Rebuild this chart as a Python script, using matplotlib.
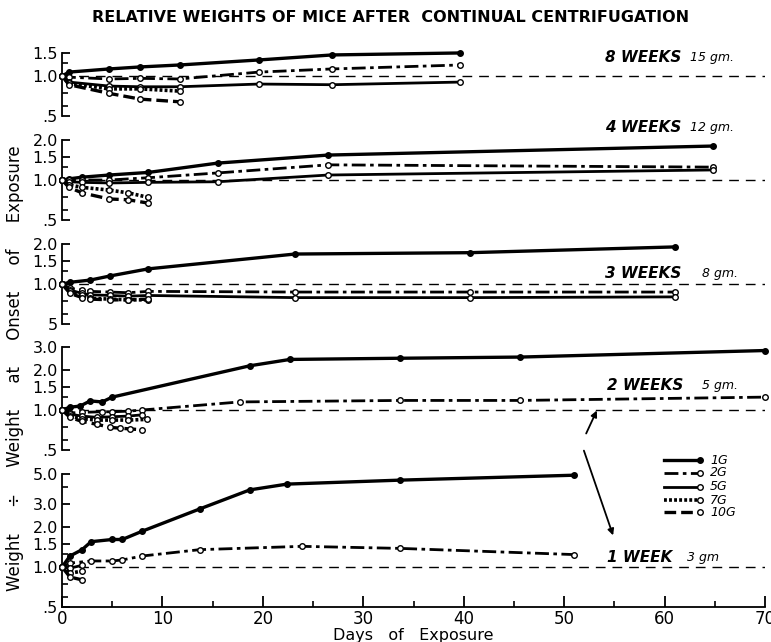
import numpy as np
import matplotlib.pyplot as plt
from matplotlib.lines import Line2D
from matplotlib.ticker import NullFormatter

# relative weight (weight / weight at onset) vs days of exposure
wk8 = {
    '1G': ([0, 0.7, 4.7, 7.8, 11.7, 19.6, 26.9, 39.6], [1.0, 1.07, 1.13, 1.17, 1.21, 1.32, 1.44, 1.49]),
    '2G': ([0, 0.7, 4.7, 7.8, 11.7, 19.6, 26.9, 39.6], [1.0, 0.98, 0.95, 0.96, 0.95, 1.07, 1.13, 1.21]),
    '5G': ([0, 0.7, 4.7, 7.8, 11.7, 19.6, 26.9, 39.6], [1.0, 0.90, 0.84, 0.83, 0.83, 0.87, 0.86, 0.90]),
    '7G': ([0, 0.7, 4.7, 7.8, 11.7], [1.0, 0.88, 0.80, 0.80, 0.77]),
    '10G': ([0, 0.7, 4.7, 7.8, 11.7], [1.0, 0.86, 0.74, 0.67, 0.64]),
}
wk4 = {
    '1G': ([0, 0.7, 2, 4.7, 8.6, 15.5, 26.5, 64.8], [1.0, 1.02, 1.05, 1.09, 1.14, 1.34, 1.54, 1.80]),
    '2G': ([0, 0.7, 2, 4.7, 8.6, 15.5, 26.5, 64.8], [1.0, 1.0, 1.0, 1.0, 1.04, 1.13, 1.30, 1.25]),
    '5G': ([0, 0.7, 2, 4.7, 8.6, 15.5, 26.5, 64.8], [1.0, 0.97, 0.96, 0.95, 0.96, 0.97, 1.09, 1.19]),
    '7G': ([0, 0.7, 2, 4.7, 6.6, 8.6], [1.0, 0.92, 0.88, 0.84, 0.80, 0.74]),
    '10G': ([0, 0.7, 2, 4.7, 6.6, 8.6], [1.0, 0.88, 0.80, 0.72, 0.71, 0.67]),
}
wk3 = {
    '1G': ([0, 0.8, 2.8, 4.8, 8.6, 23.2, 40.6, 61.0], [1.0, 1.03, 1.07, 1.15, 1.30, 1.68, 1.72, 1.90]),
    '2G': ([0, 0.8, 2, 2.8, 4.8, 6.6, 8.6, 23.2, 40.6, 61.0], [1.0, 0.93, 0.90, 0.88, 0.87, 0.86, 0.88, 0.87, 0.87, 0.87]),
    '5G': ([0, 0.8, 2, 2.8, 4.8, 6.6, 8.6, 23.2, 40.6, 61.0], [1.0, 0.90, 0.85, 0.83, 0.82, 0.81, 0.82, 0.79, 0.79, 0.80]),
    '7G': ([0, 0.8, 2, 2.8, 4.8, 6.6, 8.6], [1.0, 0.88, 0.82, 0.78, 0.77, 0.76, 0.76]),
    '10G': ([0, 0.8, 2, 2.8, 4.8, 6.6, 8.6], [1.0, 0.85, 0.79, 0.77, 0.76, 0.76, 0.77]),
}
wk2 = {
    '1G': ([0, 0.8, 1.8, 2.8, 4.0, 5.0, 18.7, 22.7, 33.7, 45.6, 70.0], [1.0, 1.05, 1.07, 1.17, 1.15, 1.25, 2.15, 2.40, 2.45, 2.50, 2.80]),
    '2G': ([0, 0.8, 2, 4.0, 5.0, 6.6, 8.0, 17.7, 33.7, 45.6, 70.0], [1.0, 0.95, 0.96, 0.97, 0.97, 0.98, 1.0, 1.15, 1.18, 1.18, 1.25]),
    '5G': ([0, 0.8, 2, 3.5, 5.0, 6.6, 8.0], [1.0, 0.93, 0.90, 0.88, 0.89, 0.90, 0.92]),
    '7G': ([0, 0.8, 2, 3.5, 5.0, 6.6, 8.5], [1.0, 0.90, 0.86, 0.84, 0.84, 0.84, 0.85]),
    '10G': ([0, 0.8, 2, 3.5, 4.8, 5.8, 6.8, 8.0], [1.0, 0.88, 0.82, 0.78, 0.74, 0.73, 0.72, 0.71]),
}
wk1 = {
    '1G': ([0, 0.8, 2.0, 2.9, 5.0, 6.0, 8.0, 13.7, 18.7, 22.4, 33.7, 51.0], [1.0, 1.21, 1.35, 1.55, 1.61, 1.61, 1.86, 2.73, 3.8, 4.2, 4.5, 4.9]),
    '2G': ([0, 0.8, 2.9, 5.0, 6.0, 8.0, 13.7, 23.9, 33.7, 51.0], [1.0, 1.07, 1.11, 1.11, 1.13, 1.21, 1.35, 1.43, 1.38, 1.24]),
    '5G': ([0, 0.8, 2.0], [1.0, 0.98, 1.03]),
    '7G': ([0, 0.8, 2.0], [1.0, 0.90, 0.93]),
    '10G': ([0, 0.8, 2.0], [1.0, 0.84, 0.80]),
}

panel_names = ['8 WEEKS', '4 WEEKS', '3 WEEKS', '2 WEEKS', '1 WEEK']
panel_mass = ['15 gm.', '12 gm.', '8 gm.', '5 gm.', '3 gm']
panel_data = [wk8, wk4, wk3, wk2, wk1]
panel_tops = [1.5, 2.0, 2.0, 3.0, 5.0]
major_ticks = [[0.5, 1.0, 1.5], [0.5, 1.0, 1.5, 2.0], [0.5, 1.0, 1.5, 2.0],
               [0.5, 1.0, 1.5, 2.0, 3.0], [0.5, 1.0, 1.5, 2.0, 3.0, 5.0]]
major_labels = [['.5', '1.0', '1.5'], ['.5', '1.0', '1.5', '2.0'], ['5', '1.0', '1.5', '2.0'],
                ['.5', '1.0', '1.5', '2.0', '3.0'], ['.5', '1.0', '1.5', '2.0', '3.0', '5.0']]
series = ['1G', '2G', '5G', '7G', '10G']
days_ticks = [0, 10, 20, 30, 40, 50, 60, 70]

styles = {
    '1G': dict(ls='-', lw=2.4, mfc='black'),
    '2G': dict(ls=(0, (5, 1.6, 1.3, 1.6)), lw=2.0, mfc='white'),
    '5G': dict(ls='-', lw=2.0, mfc='white'),
    '7G': dict(ls=(0, (0.8, 0.6)), lw=2.6, mfc='white'),
    '10G': dict(ls=(0, (3.5, 1.5)), lw=2.4, mfc='white'),
}

W, H = 771, 642
fig = plt.figure(figsize=(W / 100, H / 100), dpi=100)
plt.rcParams['font.family'] = 'DejaVu Sans'

one_px = [76, 180, 284, 410, 567]   # pixel row of 1.0 in each panel
scale = 133.0                        # pixels per decade
label_px = [(605, 58), (605, 128), (605, 273), (607, 385), (607, 557)]
mass_px = [690, 690, 702, 702, 687]

x0_px, x1_px = 62, 765
axes = []
for i in range(5):
    top_px = one_px[i] - scale * np.log10(panel_tops[i])
    bot_px = one_px[i] + scale * np.log10(2)
    ax = fig.add_axes([x0_px / W, 1 - bot_px / H, (x1_px - x0_px) / W, (bot_px - top_px) / H])
    ax.patch.set_visible(False)
    ax.set_yscale('log')
    ax.set_ylim(0.5, panel_tops[i])
    ax.set_xlim(0, 70)
    for s in ['top', 'right']:
        ax.spines[s].set_visible(False)
    ax.spines['left'].set_linewidth(1.3)
    ax.set_yticks(major_ticks[i], major_labels[i])
    minors = [0.6, 0.75]
    if panel_tops[i] > 1.4:
        minors.append(1.25)
    if panel_tops[i] >= 5:
        minors.append(4.0)
    ax.set_yticks(minors, minor=True)
    ax.yaxis.set_minor_formatter(NullFormatter())
    ax.tick_params(axis='y', which='major', direction='in', length=6, width=1.3, labelsize=11.5, pad=3)
    ax.tick_params(axis='y', which='minor', direction='in', length=4, width=1.2)

    ax.axhline(1.0, color='black', lw=1.0, ls=(0, (7, 5)), zorder=1)

    d = panel_data[i]
    for k in series:
        st = styles[k]
        ax.plot(d[k][0], d[k][1], color='black', ls=st['ls'], lw=st['lw'],
                marker='o', ms=4, mfc=st['mfc'], mec='black', mew=1.0,
                clip_on=False, zorder=3)

    # panel label
    lx, ly = label_px[i]
    fig.text(lx / W, 1 - ly / H, panel_names[i], fontsize=11, fontweight='heavy',
             fontstyle='italic', va='center', ha='left')
    fig.text(mass_px[i] / W, 1 - ly / H, panel_mass[i], fontsize=9,
             fontstyle='italic', va='center', ha='left')

    if i < 4:
        ax.spines['bottom'].set_visible(False)
        ax.set_xticks([])
    else:
        ax.spines['bottom'].set_linewidth(1.3)
        ax.set_xticks(days_ticks, [str(t) for t in days_ticks])
        ax.set_xticks(np.arange(5, 70, 10), minor=True)
        ax.tick_params(axis='x', which='major', direction='in', length=8, width=1.3, labelsize=12, pad=2)
        ax.tick_params(axis='x', which='minor', direction='in', length=4, width=1.2)
        ax.set_xlabel('Days   of   Exposure', fontsize=11.5, labelpad=0)
    axes.append(ax)

fig.suptitle('RELATIVE WEIGHTS OF MICE AFTER  CONTINUAL CENTRIFUGATION',
             x=391 / W, y=1 - 17 / H, fontsize=11.5, fontweight='bold', va='center')

fig.text(15 / W, 1 - 368 / H, 'Weight     ÷     Weight     at     Onset     of     Exposure',
         rotation=90, fontsize=12, va='center', ha='center')

# arrows pointing from the 2 WEEKS curve down to 1 WEEK
fig.add_artist(plt.Annotation('', xy=(598 / W, 1 - 408 / H), xytext=(585 / W, 1 - 436 / H),
                              xycoords='figure fraction', textcoords='figure fraction',
                              arrowprops=dict(arrowstyle='-|>', color='black', lw=1.3,
                                              mutation_scale=9)))
fig.add_artist(plt.Annotation('', xy=(614 / W, 1 - 538 / H), xytext=(583 / W, 1 - 448 / H),
                              xycoords='figure fraction', textcoords='figure fraction',
                              arrowprops=dict(arrowstyle='-|>', color='black', lw=1.3,
                                              mutation_scale=9)))

# hand-made legend, marker at the end of each line
leg_y = [460, 473, 487, 500, 512]
for k, yy in zip(series, leg_y):
    st = styles[k]
    fy = 1 - yy / H
    fig.add_artist(Line2D([664 / W, 698 / W], [fy, fy], color='black', ls=st['ls'], lw=st['lw']))
    fig.add_artist(Line2D([700 / W], [fy], color='black', marker='o', ms=4,
                          mfc=st['mfc'], mec='black', mew=1.0))
    fig.text(710 / W, fy, k, fontsize=9, fontstyle='italic', va='center', ha='left')

fig.savefig('out.png', dpi=100)
